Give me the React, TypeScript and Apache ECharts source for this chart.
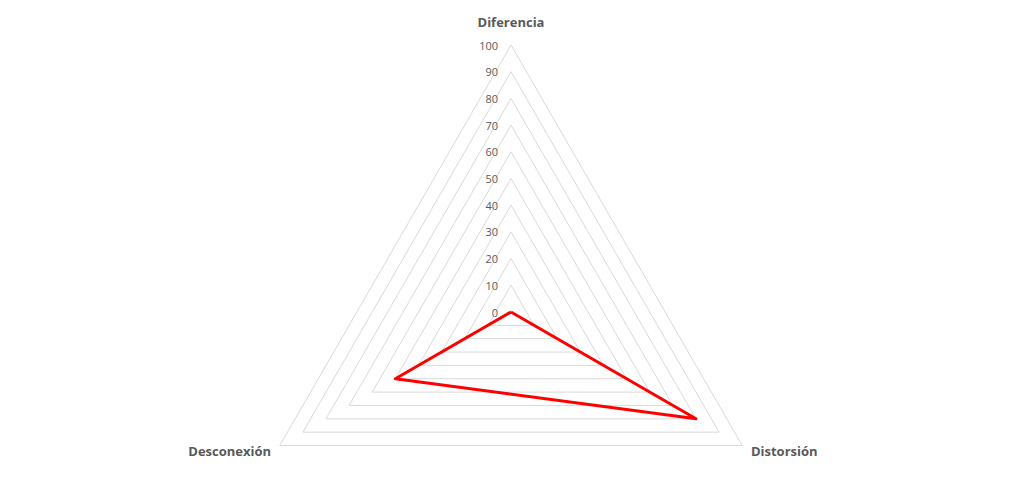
import React, { useEffect, useRef } from "react";
import * as echarts from "echarts";

const indicators = ["Diferencia", "Desconexión", "Distorsión"];
const seriesValues = [0, 50, 80];
const tickLabels = ["0", "10", "20", "30", "40", "50", "60", "70", "80", "90", "100"];

export default function App() {
  const ref = useRef<HTMLDivElement>(null);
  useEffect(() => {
    if (!ref.current) return;
    const chart = echarts.init(ref.current, null, { renderer: "svg" });
    const center = [511, 312];
    const radius = 267;
    chart.setOption({
      animation: false,
      backgroundColor: "#ffffff",
      textStyle: { color: "#595959" },
      radar: {
        center,
        radius,
        startAngle: 90,
        shape: "polygon",
        splitNumber: 10,
        indicator: indicators.map((n) => ({ name: n, min: 0, max: 100 })),
        axisName: {
          color: "#595959",
          fontWeight: "bold",
          fontSize: 13,
          fontFamily: "Open Sans",
          formatter: (name: string) =>
            name === indicators[0] ? "{top|" + name + "}" : name,
          rich: {
            top: {
              color: "#595959",
              fontWeight: "bold",
              fontSize: 13,
              fontFamily: "Open Sans",
              padding: [0, 0, 7, 0],
            },
          },
        },
        nameGap: 10,
        axisLine: { show: false },
        axisTick: { show: false },
        axisLabel: { show: false },
        splitArea: { show: false },
        splitLine: { lineStyle: { color: "#d9d9d9", width: 1 } },
      },
      polar: { center, radius },
      angleAxis: { show: false, startAngle: 90, min: 0, max: 360 },
      radiusAxis: {
        type: "category",
        data: tickLabels,
        boundaryGap: false,
        axisLine: { show: false },
        axisTick: { show: false },
        splitLine: { show: false },
        axisLabel: {
          color: "#595959",
          fontSize: 11,
          fontFamily: "Open Sans",
          margin: 13,
        },
      },
      series: [
        {
          type: "radar",
          symbol: "none",
          lineStyle: { color: "#ff0000", width: 3 },
          data: [{ value: seriesValues, name: "Serie" }],
        },
      ],
    });
    return () => chart.dispose();
  }, []);
  return (
    <div
      ref={ref}
      style={{ position: "fixed", left: 0, top: 0, width: 1022, height: 498 }}
    />
  );
}
